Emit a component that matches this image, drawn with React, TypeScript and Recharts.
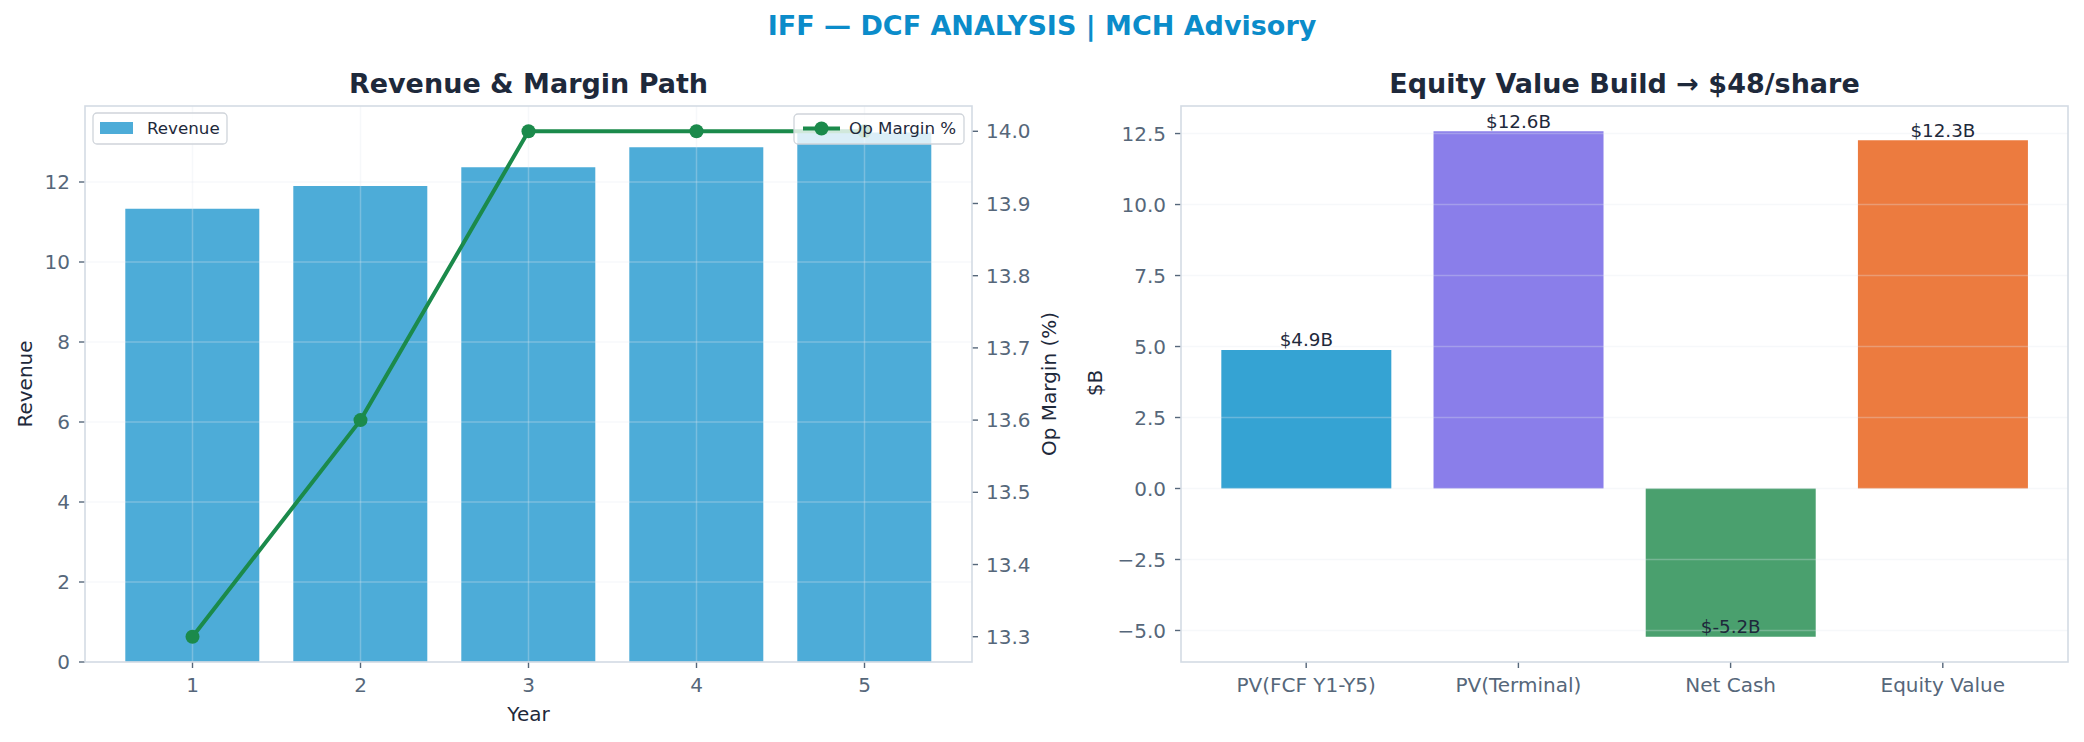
import React from 'react';
import { ComposedChart, Bar, Line, XAxis, YAxis, ReferenceLine, LabelList, Cell } from 'recharts';

// ---- data ----
const years = [1, 2, 3, 4, 5];
const revenue = [11.33, 11.9, 12.37, 12.87, 13.24];
const opMargin = [13.3, 13.6, 14.0, 14.0, 14.0];
const revenueTicks = [0, 2, 4, 6, 8, 10, 12];
const marginTicks = [13.3, 13.4, 13.5, 13.6, 13.7, 13.8, 13.9, 14.0];

const buildLabels = ['PV(FCF Y1-Y5)', 'PV(Terminal)', 'Net Cash', 'Equity Value'];
const buildValues = [4.88, 12.58, -5.22, 12.26];
const buildColors = ['#35a3d3', '#8a7eea', '#4aa06e', '#ec7b3f'];
const buildTicks = [-5, -2.5, 0, 2.5, 5, 7.5, 10, 12.5];

const leftData = years.map((y, i) => ({ year: y, revenue: revenue[i], margin: opMargin[i] }));
const rightData = buildLabels.map((l, i) => ({ name: l, value: buildValues[i] }));

const FONT = 'DejaVu Sans';
const TICK_COLOR = '#56677a';
const DARK = '#1e293b';
const FRAME = '#d4dbe4';
const GRID = '#e2e8f0';

const tickStyle = { fill: TICK_COLOR, fontSize: 20, fontFamily: FONT };
const fmtMinus = (v: number, d: number) => (v < 0 ? '\u2212' + Math.abs(v).toFixed(d) : v.toFixed(d));

const BarValueLabel = (props: any) => {
  const x = Number(props.x), y = Number(props.y), w = Number(props.width), h = Number(props.height);
  const value = Number(props.value);
  const top = Math.min(y, y + h);
  const bottom = Math.max(y, y + h);
  const edge = value >= 0 ? top : bottom;
  return (
    <text x={x + w / 2} y={edge - 3.5} textAnchor="middle" fontSize={18.3} fill={DARK} fontFamily={FONT}>
      {`$${value.toFixed(1)}B`}
    </text>
  );
};

export default function App() {
  return (
    <div style={{ position: 'absolute', left: 0, top: 0, width: 2084, height: 742, background: '#fff', overflow: 'hidden' }}>
      {/* Left chart */}
      <div style={{ position: 'absolute', left: 0, top: 0 }}>
        <ComposedChart
          width={1042}
          height={742}
          data={leftData}
          margin={{ top: 106, right: 10, bottom: 40, left: 25 }}
          barCategoryGap="10%"
        >
          <XAxis
            dataKey="year"
            type="category"
            padding={{ left: 23.5, right: 23.5 }}
            height={40}
            tickSize={6}
            tickMargin={10}
            axisLine={false}
            tickLine={{ stroke: TICK_COLOR, strokeWidth: 1.4 }}
            tick={tickStyle}
          />
          <YAxis
            yAxisId="left"
            type="number"
            domain={[0, 13.9]}
            ticks={revenueTicks}
            width={60}
            tickSize={6}
            tickMargin={9}
            axisLine={false}
            tickLine={{ stroke: TICK_COLOR, strokeWidth: 1.4 }}
            tick={tickStyle}
          />
          <YAxis
            yAxisId="right"
            orientation="right"
            type="number"
            domain={[13.265, 14.035]}
            ticks={marginTicks}
            tickFormatter={(v: number) => v.toFixed(1)}
            width={60}
            tickSize={6}
            tickMargin={8}
            axisLine={false}
            tickLine={{ stroke: TICK_COLOR, strokeWidth: 1.4 }}
            tick={tickStyle}
          />
          <Bar yAxisId="left" dataKey="revenue" fill="#4dacd8" isAnimationActive={false} />
          {revenueTicks.map((t) => (
            <ReferenceLine key={'ly' + t} yAxisId="left" y={t} stroke={GRID} strokeOpacity={0.3} strokeWidth={1.5} />
          ))}
          {years.map((t) => (
            <ReferenceLine key={'lx' + t} yAxisId="left" x={t} stroke={GRID} strokeOpacity={0.3} strokeWidth={1.5} />
          ))}
          <Line
            yAxisId="right"
            dataKey="margin"
            stroke="#1b8a4b"
            strokeWidth={4}
            dot={{ r: 7, fill: '#1b8a4b', stroke: '#1b8a4b', strokeWidth: 0 }}
            activeDot={false}
            isAnimationActive={false}
          />
        </ComposedChart>
      </div>

      {/* Right chart */}
      <div style={{ position: 'absolute', left: 1042, top: 0 }}>
        <ComposedChart
          width={1042}
          height={742}
          data={rightData}
          margin={{ top: 106, right: 16, bottom: 40, left: 79 }}
          barCategoryGap="10%"
        >
          <XAxis
            dataKey="name"
            type="category"
            padding={{ left: 19.1, right: 19.1 }}
            height={40}
            tickSize={6}
            tickMargin={10}
            axisLine={false}
            tickLine={{ stroke: TICK_COLOR, strokeWidth: 1.4 }}
            tick={tickStyle}
            interval={0}
          />
          <YAxis
            type="number"
            domain={[-6.11, 13.47]}
            ticks={buildTicks}
            tickFormatter={(v: number) => fmtMinus(v, 1)}
            width={60}
            tickSize={6}
            tickMargin={9}
            axisLine={false}
            tickLine={{ stroke: TICK_COLOR, strokeWidth: 1.4 }}
            tick={tickStyle}
          />
          <Bar dataKey="value" isAnimationActive={false}>
            {rightData.map((d, i) => (
              <Cell key={d.name} fill={buildColors[i]} />
            ))}
            <LabelList dataKey="value" content={BarValueLabel} />
          </Bar>
          {buildTicks.map((t) => (
            <ReferenceLine key={'ry' + t} y={t} stroke={GRID} strokeOpacity={0.3} strokeWidth={1.5} />
          ))}
        </ComposedChart>
      </div>

      {/* Overlay: frames, titles, axis labels, legends */}
      <svg width={2084} height={742} style={{ position: 'absolute', left: 0, top: 0, pointerEvents: 'none' }}>
        <rect x={85} y={106} width={887} height={556} fill="none" stroke={FRAME} strokeWidth={1.6} />
        <rect x={1181} y={106} width={887} height={556} fill="none" stroke={FRAME} strokeWidth={1.6} />

        <text x={1042} y={35} textAnchor="middle" fontFamily={FONT} fontWeight="bold" fontSize={27} fill="#0b8cca">
          IFF — DCF ANALYSIS | MCH Advisory
        </text>
        <text x={528.5} y={93} textAnchor="middle" fontFamily={FONT} fontWeight="bold" fontSize={27} fill={DARK}>
          Revenue &amp; Margin Path
        </text>
        <text x={1624.5} y={93} textAnchor="middle" fontFamily={FONT} fontWeight="bold" fontSize={27} fill={DARK}>
          Equity Value Build → $48/share
        </text>

        <text x={528.5} y={721} textAnchor="middle" fontFamily={FONT} fontSize={20} fill={DARK}>Year</text>
        <text transform="translate(31.5,384) rotate(-90)" textAnchor="middle" fontFamily={FONT} fontSize={20} fill={DARK}>Revenue</text>
        <text transform="translate(1056,384) rotate(-90)" textAnchor="middle" fontFamily={FONT} fontSize={20} fill={DARK}>Op Margin (%)</text>
        <text transform="translate(1101.5,383) rotate(-90)" textAnchor="middle" fontFamily={FONT} fontSize={20} fill={DARK}>$B</text>

        {/* Revenue legend */}
        <rect x={93} y={113} width={134} height={31} rx={4} fill="#ffffff" fillOpacity={0.8} stroke="#cfd4da" strokeWidth={1.3} />
        <rect x={100} y={122} width={33} height={12} fill="#4dacd8" />
        <text x={147} y={134} fontFamily={FONT} fontSize={16.7} fill={DARK}>Revenue</text>

        {/* Op Margin legend */}
        <rect x={794} y={114} width={170} height={30} rx={4} fill="#ffffff" fillOpacity={0.8} stroke="#cfd4da" strokeWidth={1.3} />
        <line x1={803} y1={128.5} x2={840} y2={128.5} stroke="#1b8a4b" strokeWidth={4} />
        <circle cx={821.5} cy={128.5} r={7} fill="#1b8a4b" />
        <text x={849} y={134} fontFamily={FONT} fontSize={16.7} fill={DARK}>Op Margin %</text>
      </svg>
    </div>
  );
}
